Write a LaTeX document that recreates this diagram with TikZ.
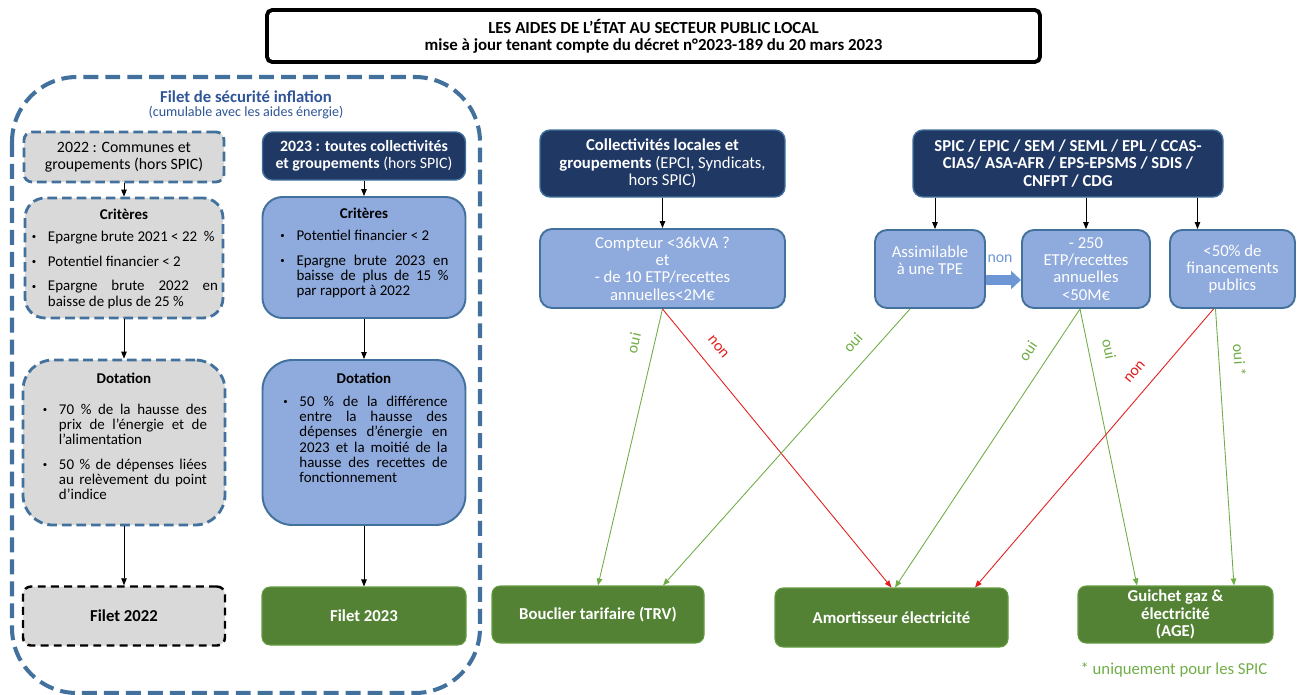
\documentclass[tikz,border=0pt]{standalone}
\usepackage{fontspec}
\setmainfont{Carlito}
\usetikzlibrary{arrows.meta,calc}
\definecolor{marine}{HTML}{203864}
\definecolor{bleuclair}{HTML}{8FAADC}
\definecolor{bleubord}{HTML}{41719C}
\definecolor{bleufleche}{HTML}{6E96D4}
\definecolor{grisclair}{HTML}{D9D9D9}
\definecolor{vertfonce}{HTML}{548235}
\definecolor{vertclair}{HTML}{70AD47}
\definecolor{rouge}{HTML}{E41E1E}
\definecolor{bleutitre}{HTML}{2F5597}
\newlength{\pg}\newlength{\pd}
\newcommand{\marges}[2]{\setlength{\pg}{#1}\setlength{\pd}{#2}}
\newcommand{\puce}[1]{\par\leftskip=0pt\rightskip=\pd\parfillskip=0pt plus 1fil\hangindent=\dimexpr\pg+3.2mm\relax\hangafter=1\noindent\hspace*{\pg}\makebox[3.2mm][l]{\raisebox{0.25ex}{\fontsize{5}{5}\selectfont\textbullet}}#1\par}
\newcommand{\boite}[3]{\parbox[c][#1][t]{#2}{\hyphenpenalty=10000\exhyphenpenalty=10000\fontsize{8.5}{8.7}\selectfont #3}}

\begin{document}
\begin{tikzpicture}[x=0.2mm, y=-0.2mm,
 txt/.style={font=\fontsize{9.5}{9.8}\selectfont, align=center, inner sep=0pt},
 titrebox/.style={draw, line width=2.2pt, rounded corners=3pt, minimum width=154.6mm, minimum height=10.4mm, align=center, font=\bfseries\fontsize{9.6}{9.8}\selectfont},
 cadre/.style={draw=bleubord, line width=2.3pt, dash pattern=on 8.5pt off 4pt, rounded corners=13mm},
 grisbox/.style={fill=grisclair, draw=bleubord, line width=1.6pt, dash pattern=on 5.5pt off 2.8pt, inner sep=0pt},
 bleubox/.style={fill=bleuclair, draw=bleubord, line width=1.1pt, inner sep=0pt},
 marinebox/.style={txt, fill=marine, draw=bleubord, line width=0.8pt, rounded corners=2mm, text=white},
 choix/.style={txt, fill=bleuclair, draw=bleubord, line width=1.1pt, rounded corners=2.4mm, text=white},
 vertbox/.style={txt, fill=vertfonce, draw=vertclair!60!vertfonce, line width=0.6pt, rounded corners=1.6mm, text=white, font=\bfseries\fontsize{9.5}{9.8}\selectfont},
 fl/.style={-{Triangle[length=1.4mm,width=1.1mm]}, line width=0.5pt},
 oui/.style={fl, draw=vertclair},
 non/.style={fl, draw=rouge},
 grosse/.style={line width=2mm, draw=bleufleche, -{Triangle[length=2mm,width=3.6mm]}},
 etiq/.style={font=\fontsize{9}{9}\selectfont, sloped, inner sep=0.3mm, above=2.6mm}]
\useasboundingbox (0,0) rectangle (1297,695);
\node [titrebox] (titre) at (653.5,36) {LES AIDES DE L’ÉTAT AU SECTEUR PUBLIC LOCAL\\mise à jour tenant compte du décret n°2023-189 du 20 mars 2023};
\draw [cadre] (12,77) rectangle (480,693);
\node [font=\bfseries\fontsize{9.5}{10}\selectfont, text=bleutitre] (filettitre) at (246,97) {Filet de sécurité inflation};
\node [font=\fontsize{8}{8}\selectfont, text=bleutitre] (filetsous) at (246,113) {(cumulable avec les aides énergie)};

\node [grisbox, txt, rounded corners=1.6mm, minimum width=40mm, minimum height=10mm, font=\fontsize{9}{9.5}\selectfont] (c22) at (124,157) {2022 : Communes et\\groupements (hors SPIC)};
\node [grisbox, rounded corners=4mm] (crit22) at (124,258) {\boite{24mm}{39.6mm}{\marges{1.4mm}{1mm}\vspace*{2.2mm}{\centering\textbf{Critères}\par}\vspace{1.3mm}\puce{Epargne brute 2021 < 22~~\%}\vspace{1.9mm}\puce{Potentiel financier < 2}\vspace{1.9mm}\puce{Epargne brute 2022 en\linebreak baisse de plus de 25~\%}}};
\node [grisbox, rounded corners=6mm] (dot22) at (124,442.5) {\boite{33mm}{40.4mm}{\marges{4mm}{3.6mm}\vspace*{2.6mm}{\centering\textbf{Dotation}\par}\vspace{3.1mm}\puce{70~\% de la hausse des\linebreak prix de l’énergie et de\linebreak l’alimentation}\vspace{1.8mm}\puce{50~\% de dépenses liées\linebreak au relèvement du point\linebreak d’indice}}};
\node [grisbox, txt, draw=black, line width=1.4pt, dash pattern=on 4.5pt off 3pt, rounded corners=1.6mm, minimum width=40.4mm, minimum height=11.8mm, font=\bfseries\fontsize{9.5}{10}\selectfont] (filet22) at (124,616) {Filet 2022};
\draw [fl] (c22) -- (crit22);
\draw [fl] (crit22) -- (dot22);
\draw [fl] (dot22) -- (filet22);

\node [marinebox, minimum width=40.6mm, minimum height=9.6mm, font=\fontsize{9}{9.5}\selectfont] (c23) at (364,156) {\textbf{2023 : toutes collectivités}\\\textbf{et groupements} (hors SPIC)};
\node [bleubox, rounded corners=4mm] (crit23) at (364,257.5) {\boite{24.2mm}{40.6mm}{\marges{3.6mm}{3.4mm}\vspace*{2.2mm}{\centering\textbf{Critères}\par}\vspace{1.3mm}\puce{Potentiel financier < 2}\vspace{1.9mm}\puce{Epargne brute 2023 en\linebreak baisse de plus de 15~\%\linebreak par rapport à 2022}}};
\node [bleubox, rounded corners=6mm] (dot23) at (364,442.5) {\boite{33mm}{40.6mm}{\marges{4.2mm}{3.6mm}\vspace*{2.6mm}{\centering\textbf{Dotation}\par}\vspace{1.5mm}\puce{50~\% de la différence\linebreak entre la hausse des\linebreak dépenses d’énergie en\linebreak 2023 et la moitié de la\linebreak hausse des recettes de\linebreak fonctionnement}}};
\node [vertbox, minimum width=40.8mm, minimum height=11.6mm] (filet23) at (364,616) {Filet 2023};
\draw [fl] (c23) -- (crit23);
\draw [fl] (crit23) -- (dot23);
\draw [fl] (dot23) -- (filet23);

\node [marinebox, minimum width=49mm, minimum height=13.4mm] (coll) at (662.5,163.5) {\textbf{Collectivités locales et}\\\textbf{groupements} (EPCI, Syndicats,\\hors SPIC)};
\node [choix, minimum width=49mm, minimum height=15.8mm] (compteur) at (662.5,268.5) {Compteur <36kVA ?\\et\\- de 10 ETP/recettes\\annuelles<2M€};
\node [marinebox, minimum width=62mm, minimum height=13.4mm, font=\bfseries\fontsize{9.5}{9.8}\selectfont] (spic) at (1068,163.5) {SPIC / EPIC / SEM / SEML / EPL / CCAS-\\CIAS/ ASA-AFR / EPS-EPSMS / SDIS /\\CNFPT / CDG};
\node [choix, minimum width=22mm, minimum height=15.6mm] (assim) at (930,269) {Assimilable\\à une TPE\\~};
\node [choix, minimum width=25.6mm, minimum height=15.6mm] (etp) at (1086,269) {- 250\\ETP/recettes\\annuelles\\<50M€};
\node [choix, minimum width=25mm, minimum height=15.6mm] (pub) at (1232.5,269) {<50\% de\\financements\\publics};
\draw [fl] (coll) -- (compteur);
\coordinate (hA) at ($(assim.north)+(5,0)$);
\coordinate (hB) at ($(pub.north)+(-35,0)$);
\draw [fl] (spic.south -| hA) -- (hA);
\draw [fl] (spic.south -| etp.north) -- (etp.north);
\draw [fl] (spic.south -| hB) -- (hB);
\draw [grosse] ($(assim.east)+(0,11)$) -- node [above=1.4mm, pos=.4, text=bleufleche, font=\fontsize{9}{9}\selectfont] (nonfleche) {non} ($(etp.west)+(0,11)$);

\node [vertbox, minimum width=42.4mm, minimum height=11.4mm] (bouclier) at (598,614.5) {Bouclier tarifaire (TRV)};
\node [vertbox, minimum width=46.6mm, minimum height=11.8mm] (amort) at (891.5,617.5) {Amortisseur électricité};
\node [vertbox, minimum width=39mm, minimum height=11.4mm] (guichet) at (1175.5,614.5) {Guichet gaz \&\\électricité\\(AGE)};
\node [font=\fontsize{9.5}{10}\selectfont, text=vertclair] (note) at (1174,670) {* uniquement pour les SPIC};

\draw [oui] (compteur.south) -- node [etiq, pos=.14, text=vertclair] (ouiA) {oui} (bouclier.north);
\draw [non] (compteur.south) -- node [etiq, pos=.18, text=rouge] (nonA) {non} (amort.north);
\draw [oui] ($(assim.south)+(-20,0)$) -- node [etiq, pos=.17, text=vertclair] (ouiB) {oui} ($(bouclier.north)+(65,0)$);
\draw [oui] ($(etp.south)+(-6,0)$) -- node [etiq, pos=.19, text=vertclair] (ouiC) {oui} ($(amort.north)+(3.5,0)$);
\draw [oui] ($(etp.south)+(-6,0)$) -- node [etiq, pos=.16, text=vertclair] (ouiD) {oui} ($(guichet.north)+(-38.5,0)$);
\draw [non] ($(pub.south)+(-19,0)$) -- node [etiq, pos=.27, text=rouge] (nonB) {non} ($(amort.north)+(83.5,0)$);
\draw [oui] ($(pub.south)+(-17,0)$) -- node [etiq, pos=.19, text=vertclair] (ouiE) {oui *} ($(guichet.north)+(58.5,0)$);
\end{tikzpicture}
\end{document}
